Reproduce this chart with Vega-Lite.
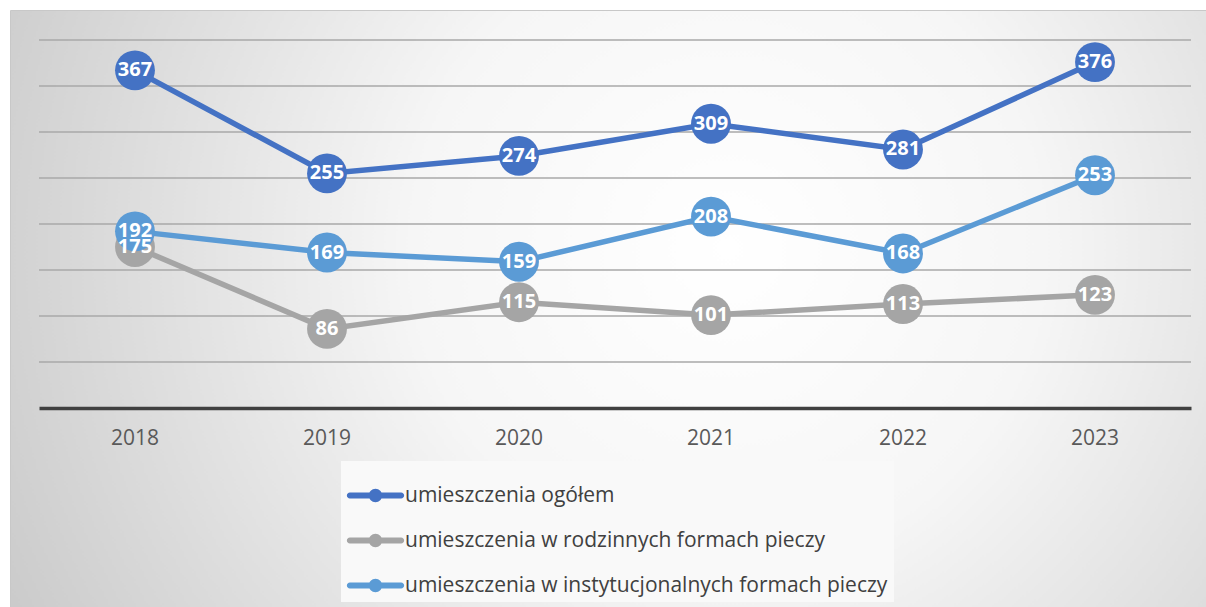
{
  "$schema": "https://vega.github.io/schema/vega-lite/v6.json",
  "width": 1196,
  "height": 597,
  "padding": {"left": 10, "top": 10, "right": 0, "bottom": 0},
  "autosize": {"type": "none"},
  "background": "#ffffff",
  "config": {
    "font": "Open Sans",
    "view": {
      "fill": {"gradient": "radial", "x1": 0.6, "y1": 0.45, "r1": 0, "x2": 0.6, "y2": 0.45, "r2": 0.75,
        "stops": [{"offset": 0, "color": "#ffffff"}, {"offset": 0.35, "color": "#f6f6f6"}, {"offset": 1, "color": "#c2c2c2"}]},
      "stroke": "#c8c8c8"
    }
  },
  "datasets": {
    "series": [
      {"year": "2018", "series": "umieszczenia ogółem", "value": 367},
      {"year": "2019", "series": "umieszczenia ogółem", "value": 255},
      {"year": "2020", "series": "umieszczenia ogółem", "value": 274},
      {"year": "2021", "series": "umieszczenia ogółem", "value": 309},
      {"year": "2022", "series": "umieszczenia ogółem", "value": 281},
      {"year": "2023", "series": "umieszczenia ogółem", "value": 376},
      {"year": "2018", "series": "umieszczenia w rodzinnych formach pieczy", "value": 175},
      {"year": "2019", "series": "umieszczenia w rodzinnych formach pieczy", "value": 86},
      {"year": "2020", "series": "umieszczenia w rodzinnych formach pieczy", "value": 115},
      {"year": "2021", "series": "umieszczenia w rodzinnych formach pieczy", "value": 101},
      {"year": "2022", "series": "umieszczenia w rodzinnych formach pieczy", "value": 113},
      {"year": "2023", "series": "umieszczenia w rodzinnych formach pieczy", "value": 123},
      {"year": "2018", "series": "umieszczenia w instytucjonalnych formach pieczy", "value": 192},
      {"year": "2019", "series": "umieszczenia w instytucjonalnych formach pieczy", "value": 169},
      {"year": "2020", "series": "umieszczenia w instytucjonalnych formach pieczy", "value": 159},
      {"year": "2021", "series": "umieszczenia w instytucjonalnych formach pieczy", "value": 208},
      {"year": "2022", "series": "umieszczenia w instytucjonalnych formach pieczy", "value": 168},
      {"year": "2023", "series": "umieszczenia w instytucjonalnych formach pieczy", "value": 253}
    ],
    "grid": [{"v": 50}, {"v": 100}, {"v": 150}, {"v": 200}, {"v": 250}, {"v": 300}, {"v": 350}, {"v": 400}]
  },
  "layer": [
    {
      "data": {"name": "grid"},
      "mark": {"type": "rule", "color": "#a8a8a8", "strokeWidth": 1.5},
      "encoding": {
        "y": {"field": "v", "type": "quantitative", "scale": {"domain": [0, 400], "range": [398, 30]}, "axis": null},
        "x": {"datum": "2018", "type": "nominal", "bandPosition": 0,
          "scale": {"type": "band", "domain": ["2018", "2019", "2020", "2021", "2022", "2023"], "range": [29, 1181], "paddingInner": 0, "paddingOuter": 0},
          "axis": {"title": null, "orient": "bottom", "offset": -199, "domainColor": "#404040", "domainWidth": 3.5, "ticks": false, "labelPadding": 19, "labelFontSize": 21, "labelColor": "#595959", "labelFont": "Open Sans", "labelAngle": 0, "grid": false}},
        "x2": {"datum": "2023", "bandPosition": 1}
      }
    },
    {
      "data": {"name": "series"},
      "mark": {"type": "line", "strokeWidth": 5.5},
      "encoding": {
        "x": {"field": "year", "type": "nominal"},
        "y": {"field": "value", "type": "quantitative"},
        "color": {"field": "series", "type": "nominal",
          "scale": {"domain": ["umieszczenia ogółem", "umieszczenia w rodzinnych formach pieczy", "umieszczenia w instytucjonalnych formach pieczy"], "range": ["#4472C4", "#A5A5A5", "#5B9BD5"]},
          "legend": {"title": null, "orient": "none", "legendX": 331, "legendY": 451, "fillColor": "#f9f9f9", "padding": 6,
            "symbolType": "M-0.9,-0.105 L0.9,-0.105 A0.105,0.105 0 0,1 0.9,0.105 L-0.9,0.105 A0.105,0.105 0 0,1 -0.9,-0.105 Z M-0.235,0 A0.235,0.235 0 1,1 0.235,0 A0.235,0.235 0 1,1 -0.235,0 Z",
            "symbolSize": 3249, "symbolStrokeWidth": 0, "symbolOpacity": 1, "rowPadding": 6, "labelOffset": 1, "labelFontSize": 21, "labelColor": "#404040", "labelFont": "Open Sans", "labelLimit": 0,
            "encode": {"symbols": {"update": {"fill": {"scale": "color", "field": "value"}, "stroke": {"value": "transparent"}, "strokeWidth": {"value": 0}, "opacity": {"value": 1}}}}}}
      }
    },
    {
      "data": {"name": "series"},
      "mark": {"type": "circle", "size": 1590, "opacity": 1},
      "encoding": {
        "x": {"field": "year", "type": "nominal"},
        "y": {"field": "value", "type": "quantitative"},
        "color": {"field": "series", "type": "nominal"}
      }
    },
    {
      "data": {"name": "series"},
      "mark": {"type": "text", "color": "#ffffff", "fontWeight": "bold", "fontSize": 20, "font": "Open Sans", "baseline": "middle", "align": "center"},
      "encoding": {
        "x": {"field": "year", "type": "nominal"},
        "y": {"field": "value", "type": "quantitative"},
        "text": {"field": "value", "type": "quantitative"}
      }
    }
  ]
}
